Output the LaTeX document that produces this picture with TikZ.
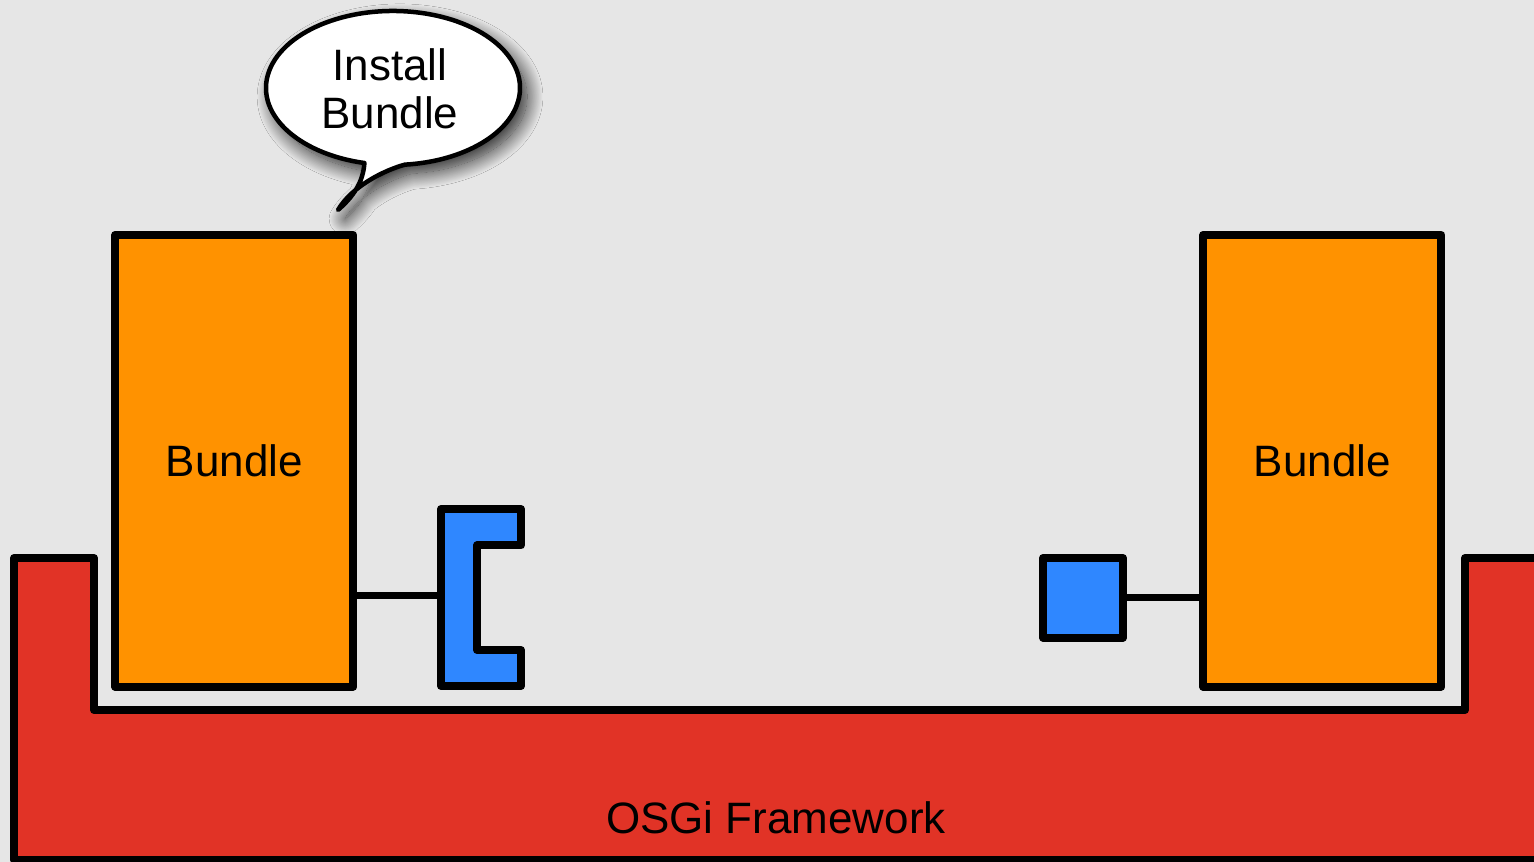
\documentclass[tikz,border=0pt]{standalone}
\usepackage{fontspec}
\setmainfont{Liberation Sans}
\usetikzlibrary{shadows.blur}
\definecolor{bgc}{HTML}{E6E6E6}
\definecolor{orangec}{HTML}{FF9200}
\definecolor{bluec}{HTML}{2F87FF}
\definecolor{redc}{HTML}{E13326}
\begin{document}
\begin{tikzpicture}[x=0.01cm,y=-0.01cm,line join=round,
  font=\fontsize{12.5pt}{13.7pt}\selectfont,
  thick line/.style={line width=0.08cm},
  bundle/.style={draw,thick line,fill=orangec,minimum width=2.38cm,minimum height=4.515cm,inner sep=0pt},
  port/.style={draw,thick line,fill=bluec,minimum width=0.8cm,minimum height=0.795cm,inner sep=0pt},
  link/.style={line width=0.07cm}]
\fill[bgc] (0,0) rectangle (1534,862);
\useasboundingbox (0,0) rectangle (1534,862);
% framework
\draw[thick line,fill=redc] (14,558) -- (94,558) -- (94,710) -- (1465,710) -- (1465,558) -- (1560,558) -- (1560,860) -- (14,860) -- cycle;
\node (fw) at (776,818) {OSGi Framework};
% bundles
\node[bundle] (b1) at (234.25,460.75) {Bundle};
\node[bundle] (b2) at (1322.25,460.75) {Bundle};
% C-shaped required port
\draw[thick line,fill=bluec] (441,509) -- (521,509) -- (521,545.5) -- (477,545.5) -- (477,650) -- (521,650) -- (521,686) -- (441,686) -- cycle;
\coordinate (creq) at (441,595.5);
\draw[link] (b1.east |- creq) -- (creq);
% provided port
\node[port] (p2) at (1083,597.75) {};
\draw[link] (p2.east) -- (p2.east -| b2.west);
% speech bubble
\draw[line width=0.045cm,fill=white,blur shadow={shadow xshift=2pt,shadow yshift=-2.5pt,shadow blur radius=4.5pt,shadow blur steps=24,shadow opacity=85}]
  (393,88) ++(103:127 and 77) arc[start angle=103,end angle=444.6,x radius=127,y radius=77]
  .. controls (385,170) and (352,186) .. (338,210)
  .. controls (354,196) and (363,182) .. cycle;
\node[align=center] (bubble) at (390,89) {Install\\Bundle};
\end{tikzpicture}
\end{document}
